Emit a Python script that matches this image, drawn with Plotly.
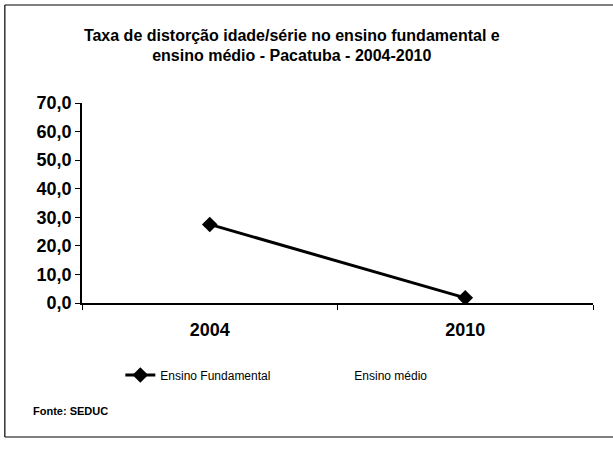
import plotly.graph_objects as go

anos = ["2004", "2010"]
ensino_fundamental = [27.5, 1.8]
ensino_medio = [None, None]
y_ticks = [0, 10, 20, 30, 40, 50, 60, 70]
y_tick_labels = ["0,0", "10,0", "20,0", "30,0", "40,0", "50,0", "60,0", "70,0"]

FONT = "Liberation Sans"

fig = go.Figure()
fig.add_trace(go.Scatter(
    x=anos, y=ensino_fundamental, name="Ensino Fundamental",
    mode="lines+markers",
    line=dict(color="black", width=3),
    marker=dict(symbol="diamond", size=12, color="black"),
))
fig.add_trace(go.Scatter(
    x=anos, y=ensino_medio, name="Ensino médio",
    mode="lines",
    line=dict(color="rgba(255,255,255,0)", width=3),
))

fig.update_layout(
    width=613, height=450,
    paper_bgcolor="white", plot_bgcolor="white",
    margin=dict(l=82, r=20, t=103, b=147, autoexpand=False),
    separators=", ",
    font=dict(family=FONT, color="black"),
    title=dict(
        text="<b>Taxa de distorção idade/série no ensino fundamental e<br>ensino médio - Pacatuba - 2004-2010</b>",
        x=0.476, xanchor="center", y=0.91, yanchor="top",
        font=dict(family=FONT, size=16, color="black"),
    ),
    xaxis=dict(
        type="category", range=[-0.5, 1.5],
        showline=True, linecolor="black", linewidth=1.5,
        ticks="outside", tickson="boundaries", ticklen=5, tickcolor="black",
        ticklabelstandoff=10,
        showgrid=False, zeroline=False,
        tickfont=dict(family=FONT, size=18, color="black", weight="bold"),
    ),
    yaxis=dict(
        range=[0, 70], tickvals=y_ticks, ticktext=y_tick_labels,
        showline=True, linecolor="black", linewidth=1.5,
        ticks="outside", ticklen=5, tickcolor="black",
        showgrid=False, zeroline=False,
        tickfont=dict(family=FONT, size=18, color="black", weight="bold"),
    ),
    legend=dict(
        orientation="h", x=0.075, xanchor="left", y=-0.36, yanchor="middle",
        entrywidth=149, entrywidthmode="pixels",
        font=dict(family=FONT, size=12, color="black"),
        bgcolor="rgba(0,0,0,0)",
    ),
    showlegend=True,
)

fig.add_annotation(
    text="<b>Fonte: SEDUC</b>", xref="paper", yref="paper",
    x=-0.1, y=-0.54, xanchor="left", yanchor="middle", showarrow=False,
    font=dict(family=FONT, size=11, color="black"),
)

# outer frame: top, left and bottom edges (right edge is cut off in the scan)
frame = dict(color="black", width=1.2)
fig.add_shape(type="line", xref="paper", yref="paper",
              x0=-0.151, x1=1.07, y0=1.49, y1=1.49, line=frame)
fig.add_shape(type="line", xref="paper", yref="paper",
              x0=-0.151, x1=-0.151, y0=-0.67, y1=1.49, line=frame)
fig.add_shape(type="line", xref="paper", yref="paper",
              x0=-0.151, x1=1.07, y0=-0.67, y1=-0.67, line=frame)

fig.write_html("out.html", config={"displayModeBar": False},
               post_script="document.body.style.margin='0';")
